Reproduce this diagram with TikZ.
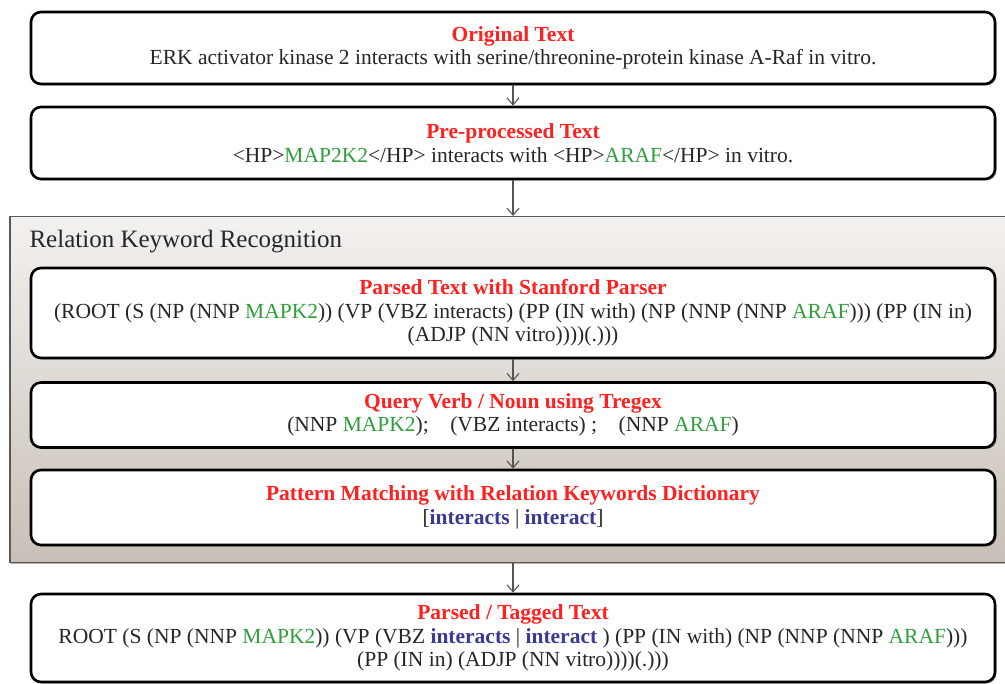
\documentclass[tikz,border=0pt]{standalone}
\usepackage{fontspec}
\setmainfont{Liberation Serif}
\usetikzlibrary{arrows.meta,shadows}
\definecolor{tred}{HTML}{FF2020}
\definecolor{tgreen}{HTML}{2F9E3C}
\definecolor{tblue}{HTML}{3A3A96}
\definecolor{ttext}{HTML}{262626}
\definecolor{arrowgray}{HTML}{555555}
\definecolor{paneltop}{HTML}{F3F1EE}
\definecolor{panelbot}{HTML}{C8C0B8}
\tikzset{
  stagebox/.style={draw=black, line width=2.6pt, rounded corners=10pt, fill=white,
    minimum width=964pt, align=center, inner sep=0pt, text=ttext,
    font=\fontsize{21.5}{23.5}\selectfont,
    drop shadow={shadow xshift=1.5pt, shadow yshift=-1.5pt, fill=black, opacity=0.35}},
  panel/.style={draw=black!65, line width=1.5pt, top color=paneltop, bottom color=panelbot,
    inner sep=0pt, anchor=north west,
    drop shadow={shadow xshift=1.5pt, shadow yshift=-1.5pt, fill=black, opacity=0.3}},
  flow/.style={draw=arrowgray, line width=1.1pt, -{Straight Barb[length=7pt,width=12pt]}},
}
\newcommand{\ttl}[1]{\textcolor{tred}{\textbf{#1}}}
\newcommand{\gn}[1]{\textcolor{tgreen}{#1}}
\newcommand{\bl}[1]{\textcolor{tblue}{\textbf{#1}}}
\begin{document}
\begin{tikzpicture}[x=1pt,y=-1pt]
\useasboundingbox (0,0) rectangle (1005,684);
\clip (0,0) rectangle (1005,684);
\fill[white] (0,0) rectangle (1005,684);

\node[panel, minimum width=1010pt, minimum height=346pt] (rkr) at (9,216) {};
\node[anchor=west, font=\fontsize{25}{28}\selectfont, text=ttext] (rkrlabel) at (26,242) {Relation Keyword Recognition};

\node[stagebox, minimum height=72pt] (orig) at (513,48)
  {\ttl{Original Text}\\ ERK activator kinase 2 interacts with serine/threonine-protein kinase A-Raf in vitro.};
\node[stagebox, minimum height=72pt] (pre) at (513,143)
  {\ttl{Pre-processed Text}\\ <HP>\gn{MAP2K2}</HP> interacts with <HP>\gn{ARAF}</HP> in vitro.};
\node[stagebox, minimum height=90pt] (parsed) at (513,313)
  {\ttl{Parsed Text with Stanford Parser}\\
   (ROOT (S (NP (NNP \gn{MAPK2})) (VP (VBZ interacts) (PP (IN with) (NP (NNP (NNP \gn{ARAF}))) (PP (IN in)\\
   (ADJP (NN vitro))))(.)))};
\node[stagebox, minimum height=65pt] (query) at (513,415)
  {\ttl{Query Verb / Noun using Tregex}\\
   (NNP \gn{MAPK2});\quad (VBZ interacts) ;\quad (NNP \gn{ARAF})};
\node[stagebox, minimum height=75pt] (pattern) at (513,507.5)
  {\ttl{Pattern Matching with Relation Keywords Dictionary}\\{}%
   [\bl{interacts} | \bl{interact}]};
\node[stagebox, minimum height=88pt] (tagged) at (513,638)
  {\ttl{Parsed / Tagged Text}\\
   ROOT (S (NP (NNP \gn{MAPK2})) (VP (VBZ \bl{interacts} | \bl{interact} ) (PP (IN with) (NP (NNP (NNP \gn{ARAF})))\\
   (PP (IN in) (ADJP (NN vitro))))(.)))};

\draw[flow] (orig.south) -- (pre.north);
\draw[flow] (pre.south) -- (pre.south |- rkr.north);
\draw[flow] (parsed.south) -- (query.north);
\draw[flow] (query.south) -- (pattern.north);
\draw[flow] (tagged.north |- rkr.south) -- (tagged.north);
\end{tikzpicture}
\end{document}
